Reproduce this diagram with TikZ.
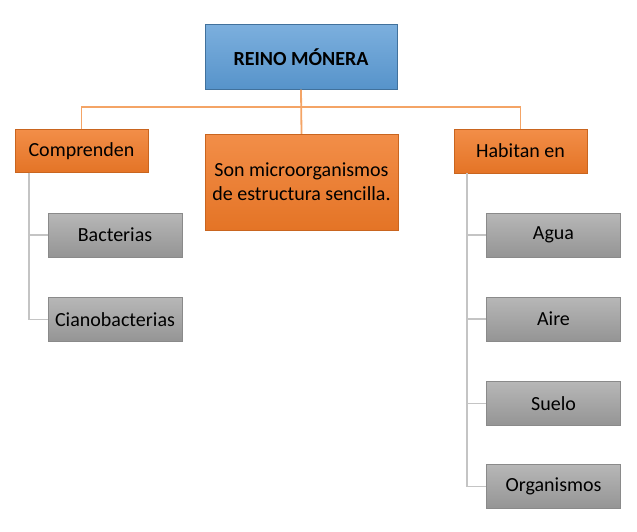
\documentclass[tikz,border=0pt]{standalone}
\usepackage{fontspec}
\setmainfont{Carlito}
\usetikzlibrary{positioning}
\definecolor{bluebox}{HTML}{5B9BD5}
\definecolor{blueedge}{HTML}{41719C}
\definecolor{orangebox}{HTML}{F07A28}
\definecolor{orangeedge}{HTML}{C9651F}
\definecolor{orangeline}{HTML}{F4A466}
\definecolor{graybox}{HTML}{A5A5A5}
\definecolor{grayedge}{HTML}{8A8A8A}
\definecolor{grayline}{HTML}{C4C4C4}

\begin{document}
\begin{tikzpicture}[x=1pt,y=-1pt,every node/.style={rectangle,inner sep=0pt,font=\fontsize{20}{24}\selectfont,align=center}]
\tikzstyle{mainbox} = [draw=blueedge, top color=bluebox!80!white, bottom color=bluebox!95!black, minimum width=192pt, minimum height=65pt, font=\fontsize{20}{24}\selectfont\bfseries]
\tikzstyle{catbox} = [draw=orangeedge, top color=orangebox!85!white, bottom color=orangebox!95!black]
\tikzstyle{itembox} = [draw=grayedge, top color=graybox!80!white, bottom color=graybox!90!black, minimum width=134pt, minimum height=44pt]
\tikzstyle{tree} = [draw=orangeline, line width=1.8pt]
\tikzstyle{branch} = [draw=grayline, line width=1.8pt]
\useasboundingbox (0,0) rectangle (637,531);

\node[mainbox] (reino) at (301,57) {REINO MÓNERA};

\node[catbox, minimum width=133pt, minimum height=43pt] (comp) at (81.5,151) {Comprenden};
\node[catbox, minimum width=193pt, minimum height=96pt] (desc) at (301.5,182) {Son microorganismos\\de estructura sencilla.};
\node[catbox, minimum width=133pt, minimum height=44pt] (hab) at (520.5,151) {Habitan en};
\coordinate (bus) at (301,107);

\node[itembox] (bact) at (115,235) {Bacterias};
\node[itembox] (ciano) at (115,319.5) {Cianobacterias};

\node[itembox] (agua) at (553.5,235) {Agua};
\node[itembox] (aire) at (553.5,319) {Aire};
\node[itembox] (suelo) at (553.5,403.5) {Suelo};
\node[itembox] (org) at (553.5,486.5) {Organismos};

\draw[tree] (reino.south) -- (desc.north);
\draw[tree] (comp.north) |- (bus) -| (hab.north);
\draw[branch] ([xshift=14pt]comp.south west) |- (bact.west);
\draw[branch] ([xshift=14pt]comp.south west) |- (ciano.west);
\draw[branch] ([xshift=13pt]hab.south west) |- (agua.west);
\draw[branch] ([xshift=13pt]hab.south west) |- (aire.west);
\draw[branch] ([xshift=13pt]hab.south west) |- (suelo.west);
\draw[branch] ([xshift=13pt]hab.south west) |- (org.west);
\end{tikzpicture}
\end{document}
